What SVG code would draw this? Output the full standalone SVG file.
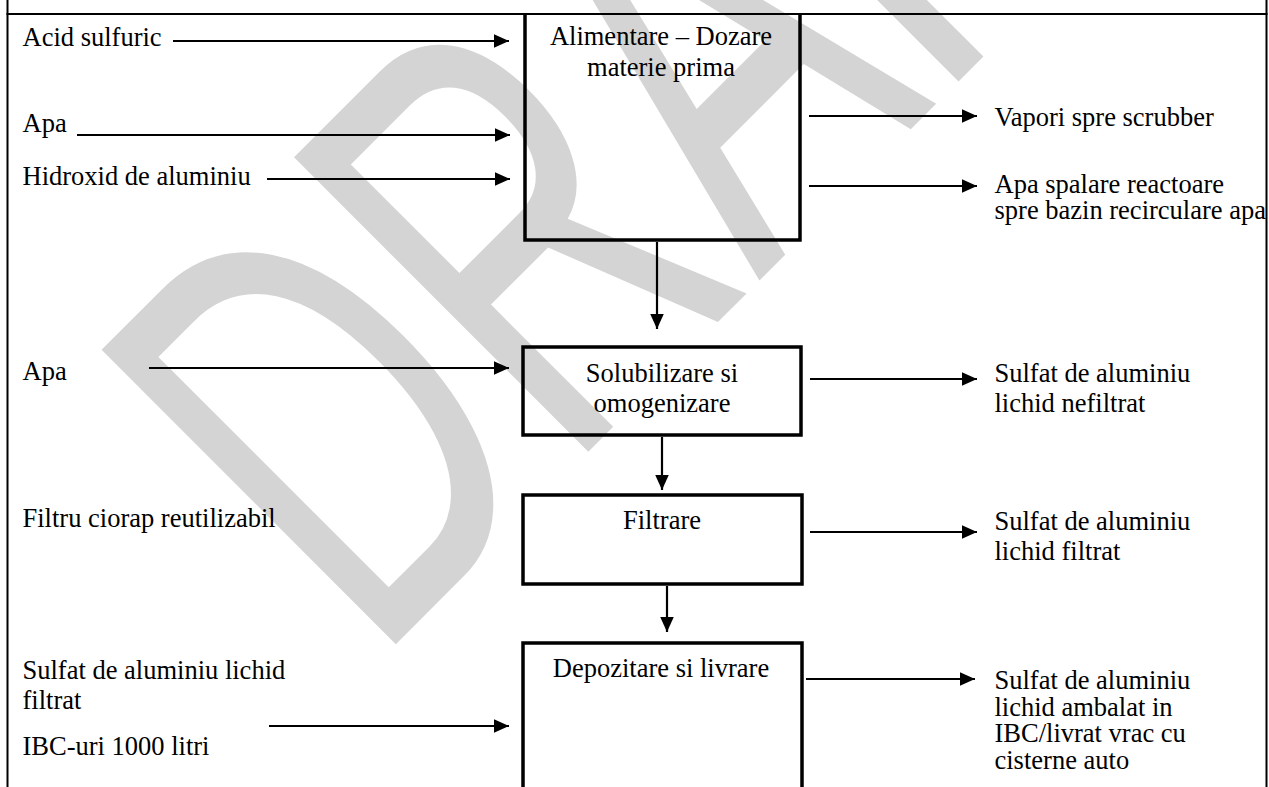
<svg xmlns="http://www.w3.org/2000/svg" width="1269" height="787" viewBox="0 0 1269 787">
<defs>
<style>
text{font-family:"Liberation Serif","Times New Roman",serif;font-size:26.5px;fill:#000}
.c{text-anchor:middle}
.box{fill:none;stroke:#000;stroke-width:3.5}
.con line{stroke:#000;stroke-width:2.2}
.wm{font-family:"Liberation Sans",Arial,sans-serif;font-size:605px;fill:#d4d4d4}
</style>
<marker id="ah" markerUnits="userSpaceOnUse" markerWidth="16" markerHeight="15" refX="15.5" refY="7.5" orient="auto">
<path d="M0,0.5 L15.5,7.5 L0,14.5 z" fill="#000"/>
</marker>
</defs>
<rect width="1269" height="787" fill="#fff"/>
<g id="watermark">
<text class="wm" transform="translate(374,666) rotate(-45) scale(0.623,1)" x="0" y="0">DRAFT</text>
</g>
<g id="table" stroke="#000" stroke-width="2" fill="none">
<line x1="7.5" y1="0" x2="7.5" y2="787"/>
<line x1="1266.5" y1="0" x2="1266.5" y2="787"/>
<line x1="6.5" y1="14" x2="1267.5" y2="14"/>
</g>
<g id="inputs">
<text x="22.5" y="45.5">Acid sulfuric</text>
<text x="22.5" y="131.5">Apa</text>
<text x="22.5" y="185">Hidroxid de aluminiu</text>
<text x="22.5" y="380">Apa</text>
<text x="22.5" y="527">Filtru ciorap reutilizabil</text>
<text x="22.5" y="679">Sulfat de aluminiu lichid</text>
<text x="22.5" y="709">filtrat</text>
<text x="22.5" y="755">IBC-uri 1000 litri</text>
</g>
<g id="node-alimentare">
<path class="box" d="M525,14 V240 H800 V14"/>
<text class="c" x="661" y="45">Alimentare – Dozare</text>
<text class="c" x="661" y="76">materie prima</text>
</g>
<g id="node-solubilizare">
<rect class="box" x="523" y="347" width="278" height="88"/>
<text class="c" x="662" y="382">Solubilizare si</text>
<text class="c" x="662" y="412">omogenizare</text>
</g>
<g id="node-filtrare">
<rect class="box" x="523" y="495" width="279" height="89"/>
<text class="c" x="662" y="529">Filtrare</text>
</g>
<g id="node-depozitare">
<path class="box" d="M523,800 V643 H802 V800"/>
<text class="c" x="661" y="677">Depozitare si livrare</text>
</g>
<g id="outputs">
<text x="994.5" y="126">Vapori spre scrubber</text>
<text x="994.5" y="193">Apa spalare reactoare</text>
<text x="994.5" y="219">spre bazin recirculare apa</text>
<text x="994.5" y="382">Sulfat de aluminiu</text>
<text x="994.5" y="412">lichid nefiltrat</text>
<text x="994.5" y="530">Sulfat de aluminiu</text>
<text x="994.5" y="560">lichid filtrat</text>
<text x="994.5" y="689">Sulfat de aluminiu</text>
<text x="994.5" y="715.5">lichid ambalat in</text>
<text x="994.5" y="742">IBC/livrat vrac cu</text>
<text x="994.5" y="768.5">cisterne auto</text>
</g>
<g id="connectors" class="con">
<line x1="173" y1="41" x2="509" y2="41" marker-end="url(#ah)"/>
<line x1="77" y1="135" x2="510" y2="135" marker-end="url(#ah)"/>
<line x1="267" y1="179" x2="510" y2="179" marker-end="url(#ah)"/>
<line x1="149" y1="368" x2="509" y2="368" marker-end="url(#ah)"/>
<line x1="269" y1="726" x2="509" y2="726" marker-end="url(#ah)"/>
<line x1="809" y1="116" x2="977" y2="116" marker-end="url(#ah)"/>
<line x1="809" y1="186" x2="977" y2="186" marker-end="url(#ah)"/>
<line x1="810" y1="379" x2="977" y2="379" marker-end="url(#ah)"/>
<line x1="810" y1="532" x2="977" y2="532" marker-end="url(#ah)"/>
<line x1="806" y1="679" x2="975" y2="679" marker-end="url(#ah)"/>
<line x1="657" y1="242" x2="657" y2="329" marker-end="url(#ah)"/>
<line x1="662" y1="437" x2="662" y2="490" marker-end="url(#ah)"/>
<line x1="667" y1="586" x2="667" y2="632" marker-end="url(#ah)"/>
</g>
</svg>
